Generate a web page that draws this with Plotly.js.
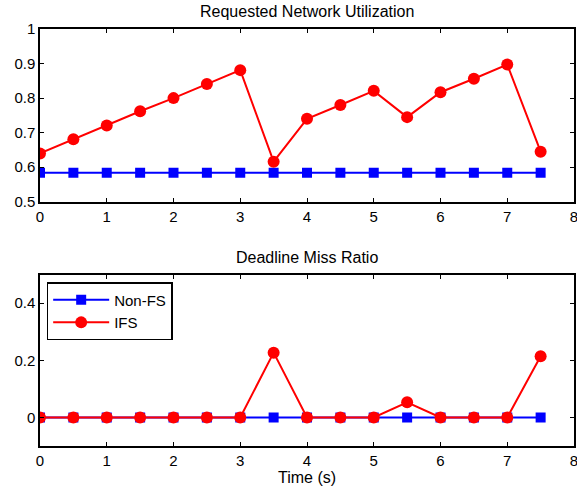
<!DOCTYPE html>
<html><head><meta charset="utf-8">
<script src="https://cdn.plot.ly/plotly-3.0.1.min.js"></script>
<style>html,body{margin:0;padding:0;background:#fff;}</style>
</head><body><div id="chart" style="width:577px;height:493px;"></div>
<script>
const time = [0,0.5,1,1.5,2,2.5,3,3.5,4,4.5,5,5.5,6,6.5,7,7.5];
const utilNonFS = [0.584,0.584,0.584,0.584,0.584,0.584,0.584,0.584,0.584,0.584,0.584,0.584,0.584,0.584,0.584,0.584];
const utilIFS = [0.640,0.681,0.721,0.762,0.800,0.841,0.881,0.616,0.740,0.780,0.821,0.745,0.817,0.856,0.897,0.645];
const missNonFS = [0,0,0,0,0,0,0,0,0,0,0,0,0,0,0,0];
const missIFS = [0,0,0,0,0,0,0,0.227,0,0,0,0.053,0,0,0,0.214];
const topTitle = "Requested Network Utilization";
const bottomTitle = "Deadline Miss Ratio";
const xTitle = "Time (s)";

const blue = '#0000ff', red = '#ff0000';
const sq = {symbol:'square', size:10, color:blue};
const ci = {symbol:'circle', size:12, color:red};
const traces = [
  {x:time, y:utilNonFS, mode:'lines+markers', line:{color:blue,width:2}, marker:sq, xaxis:'x', yaxis:'y', showlegend:false, name:'Non-FS'},
  {x:time, y:utilIFS, mode:'lines+markers', line:{color:red,width:2}, marker:ci, xaxis:'x', yaxis:'y', showlegend:false, name:'IFS'},
  {x:time, y:missNonFS, mode:'lines+markers', line:{color:blue,width:2}, marker:sq, xaxis:'x2', yaxis:'y2', name:'Non-FS'},
  {x:time, y:missIFS, mode:'lines+markers', line:{color:red,width:2}, marker:ci, xaxis:'x2', yaxis:'y2', name:'IFS'}
];
const ax = {showline:true, linecolor:'#000', linewidth:1.7, mirror:'ticks', ticks:'inside', ticklen:4, tickcolor:'#000', showgrid:false, zeroline:false, tickfont:{size:15,color:'#000'}, ticklabeloverflow:'allow'};
const layout = {
  width:577, height:493,
  margin:{l:40, r:2.5, t:29, b:46.5},
  paper_bgcolor:'#fff', plot_bgcolor:'#fff',
  font:{family:'Liberation Sans, Arial, sans-serif', color:'#000'},
  xaxis:Object.assign({}, ax, {domain:[0,1], range:[0,8], dtick:1, anchor:'y'}),
  yaxis:Object.assign({}, ax, {domain:[0.5856,1], range:[0.5,1], dtick:0.1, anchor:'x'}),
  xaxis2:Object.assign({}, ax, {domain:[0,1], range:[0,8], dtick:1, anchor:'y2', title:{text:xTitle, font:{size:16,color:'#000'}, standoff:2}}),
  yaxis2:Object.assign({}, ax, {domain:[0,0.4108], range:[-0.1,0.5], tickvals:[0,0.2,0.4], ticktext:['0','0.2','0.4'], anchor:'x2'}),
  showlegend:true,
  legend:{x:0.0125, y:0.393, xanchor:'left', yanchor:'top', bordercolor:'#000', borderwidth:1.5, bgcolor:'#fff', font:{size:15,color:'#000'}, tracegroupgap:0, itemwidth:56},
  annotations:[
    {text:topTitle, xref:'paper', yref:'paper', x:0.5, y:1, yshift:7, xanchor:'center', yanchor:'bottom', showarrow:false, font:{size:16,color:'#000'}},
    {text:bottomTitle, xref:'paper', yref:'paper', x:0.5, y:0.4108, yshift:7, xanchor:'center', yanchor:'bottom', showarrow:false, font:{size:16,color:'#000'}}
  ]
};
Plotly.newPlot('chart', traces, layout, {displayModeBar:false, staticPlot:true});
</script></body></html>
